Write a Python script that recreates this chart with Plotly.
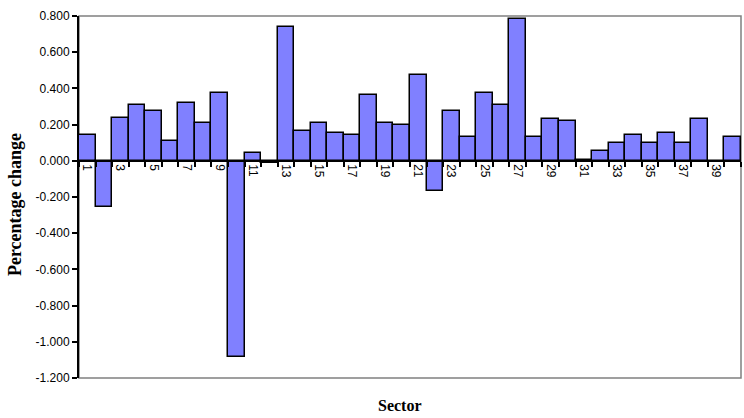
import plotly.graph_objects as go

sectors = [str(i) for i in range(1, 41)]
pct_change = [0.144, -0.253, 0.234, 0.309, 0.277, 0.111, 0.320, 0.209, 0.375, -1.085,
              0.044, -0.012, 0.741, 0.165, 0.209, 0.154, 0.142, 0.364, 0.209, 0.198,
              0.475, -0.168, 0.277, 0.133, 0.375, 0.309, 0.783, 0.131, 0.231, 0.220,
              0.002, 0.054, 0.098, 0.142, 0.098, 0.154, 0.098, 0.231, 0.0, 0.131]
tick_text = [s if int(s) % 2 == 1 else "" for s in sectors]
y_ticks = [-1.2, -1.0, -0.8, -0.6, -0.4, -0.2, 0.0, 0.2, 0.4, 0.6, 0.8]
y_tick_text = [f"{v:.3f}" for v in y_ticks]

fig = go.Figure()
fig.add_trace(go.Bar(
    x=sectors, y=pct_change,
    marker=dict(color="#8080FF", line=dict(color="black", width=1.5)),
))

fig.update_layout(
    width=744, height=418,
    margin=dict(l=79, r=3, t=16, b=40, autoexpand=False),
    paper_bgcolor="white", plot_bgcolor="white",
    bargap=0, showlegend=False,
    font=dict(family="Liberation Sans, Arial", color="black"),
    xaxis=dict(
        type="category", anchor="free", position=0.6, automargin=False,
        showline=True, linecolor="black", linewidth=2,
        ticks="outside", ticklen=5, tickwidth=2, tickcolor="black",
        tickson="boundaries",
        tickmode="array", tickvals=sectors, ticktext=tick_text,
        tickangle=90, tickfont=dict(size=12),
        showgrid=False, zeroline=False,
    ),
    yaxis=dict(
        range=[-1.2, 0.8], tickmode="array", tickvals=y_ticks, ticktext=y_tick_text,
        automargin=False,
        showline=True, linecolor="black", linewidth=2,
        ticks="outside", ticklen=5, tickwidth=2, tickcolor="black",
        tickfont=dict(size=12),
        showgrid=False, zeroline=False,
    ),
    shapes=[dict(type="rect", xref="paper", yref="paper", x0=0, x1=1, y0=0, y1=1,
                 line=dict(color="#808080", width=1.5), layer="below")],
    annotations=[
        dict(text="<b>Sector</b>", xref="paper", yref="paper", x=0.485, y=-0.075,
             yanchor="middle", showarrow=False,
             font=dict(family="Liberation Serif, Times New Roman", size=16)),
        dict(text="<b>Percentage change</b>", xref="paper", yref="paper",
             x=-0.097, y=0.48, xanchor="center", yanchor="middle", textangle=-90,
             showarrow=False,
             font=dict(family="Liberation Serif, Times New Roman", size=18)),
    ],
)

fig.write_html("out.html", config={"displayModeBar": False},
               post_script="document.body.style.margin='0';")
